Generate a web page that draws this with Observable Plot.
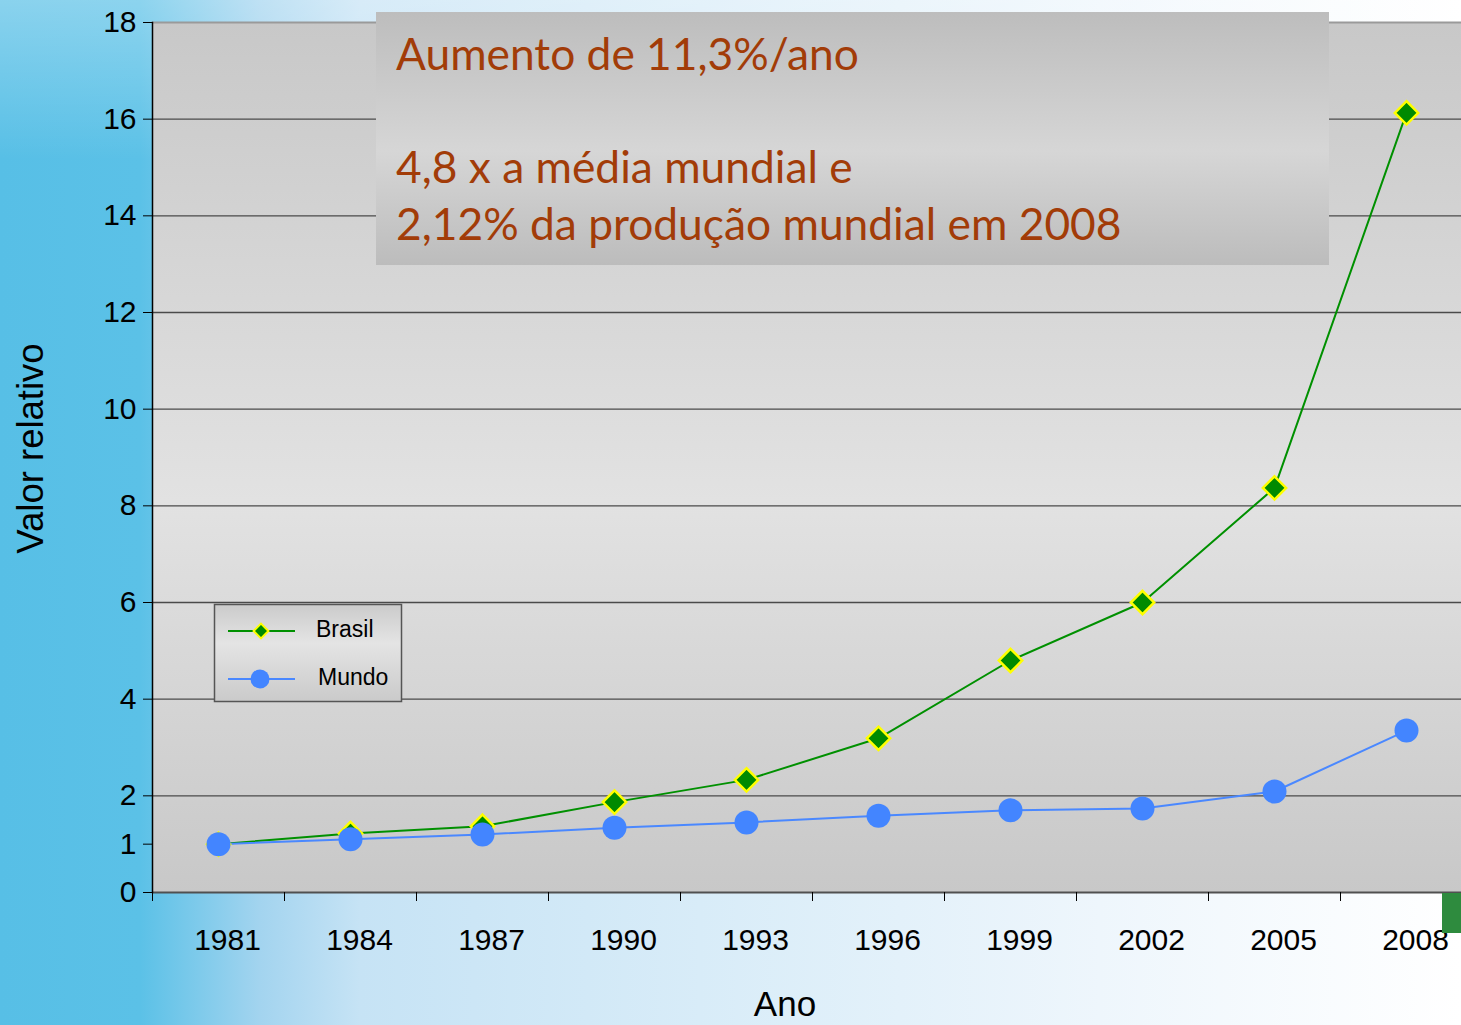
<!DOCTYPE html>
<html><head><meta charset="utf-8">
<script src="https://cdn.jsdelivr.net/npm/d3@7"></script>
<script src="https://cdn.jsdelivr.net/npm/@observablehq/plot@0.6"></script>
<style>
html,body{margin:0;padding:0;}
body{width:1461px;height:1025px;overflow:hidden;position:relative;font-family:"Liberation Sans",Arial,sans-serif;
background:
 linear-gradient(180deg, rgba(255,255,255,0.30) 0px, rgba(255,255,255,0) 160px),
 linear-gradient(90deg, #57bfe6 0px, #5bc1e7 140px, #a3d4ef 260px, #c6e3f5 360px, #d8ecf8 700px, #eef6fc 1100px, #ffffff 1461px);}
#chart{position:absolute;left:0;top:0;}
.overlay{position:absolute;left:0;top:0;pointer-events:none;}
</style>
</head><body>
<div id="chart"></div>
<svg class="overlay" width="1461" height="1025" id="ov"></svg>
<script>
const years = ["1981","1984","1987","1990","1993","1996","1999","2002","2005","2008"];
const brasil = [1.0, 1.22, 1.37, 1.87, 2.33, 3.19, 4.8, 6.0, 8.37, 16.13];
const mundo  = [1.0, 1.1, 1.2, 1.34, 1.45, 1.59, 1.7, 1.74, 2.09, 3.35];
const yTicks = [0,1,2,4,6,8,10,12,14,16,18];
const gridTicks = [2,4,6,8,10,12,14,16];
const seriesNames = ["Brasil","Mundo"];
const noteLines = ["Aumento de 11,3%/ano", "", "4,8 x a média mundial e", "2,12% da produção mundial em 2008"];

const dataB = years.map((a,i)=>({ano:a, valor:brasil[i]}));
const dataM = years.map((a,i)=>({ano:a, valor:mundo[i]}));

const W = 1461, H = 1025;
const mL = 152, mT = 22, mB = 133;
const bandW = 132.0;

function defs() {
  const ns = "http://www.w3.org/2000/svg";
  const g = document.createElementNS(ns, "defs");
  g.innerHTML = `<linearGradient id="plotbg" x1="0" y1="0" x2="0" y2="1">
    <stop offset="0" stop-color="#c8c8c8"/>
    <stop offset="0.55" stop-color="#e2e2e2"/>
    <stop offset="1" stop-color="#c8c8c8"/></linearGradient>`;
  return g;
}

const chart = Plot.plot({
  width: W, height: H,
  marginLeft: mL, marginTop: mT, marginBottom: mB, marginRight: 0,
  style: {background: "transparent", fontFamily: "'Liberation Sans', Arial, sans-serif", overflow: "hidden"},
  x: {type: "band", domain: years, range: [mL, mL + bandW * years.length], padding: 0, axis: null},
  y: {domain: [0, 18], axis: null},
  marks: [
    defs,
    Plot.frame({fill: "url(#plotbg)", stroke: null}),
    Plot.gridY(gridTicks, {stroke: "#4a4a4a", strokeOpacity: 1, strokeWidth: 1.3}),
    Plot.ruleY([18], {stroke: "#9a9a9a", strokeWidth: 2}),
    Plot.ruleY([0], {stroke: "#505050", strokeWidth: 2}),
    Plot.frame({anchor: "left", stroke: "#000", strokeWidth: 1.5}),
    Plot.axisY(yTicks, {tickSize: 9, tickPadding: 7, fontSize: 30, fill: "#000", stroke: "#000", label: null, tickFormat: d => String(d)}),
    Plot.axisX({tickSize: 9, dx: -bandW/2, tickFormat: () => "", label: null, stroke: "#000"}),
    Plot.axisX({tickSize: 0, tickPadding: 36, dx: 9, fontSize: 30, fill: "#000", label: null}),
    Plot.line(dataB, {x: "ano", y: "valor", stroke: "#009000", strokeWidth: 2}),
    Plot.line(dataM, {x: "ano", y: "valor", stroke: "#4a88ff", strokeWidth: 2}),
    Plot.dot(dataB, {x: "ano", y: "valor", symbol: "diamond2", r: 10.5, fill: "#008a00", stroke: "#ffff00", strokeWidth: 2.5}),
    Plot.dot(dataM, {x: "ano", y: "valor", r: 12, fill: "#4385ff", stroke: null}),
    Plot.text(["Ano"], {frameAnchor: "bottom", lineAnchor: "middle", textAnchor: "middle", dx: -22, dy: 112, fontSize: 35, fill: "#000"}),
    Plot.text(["Valor relativo"], {frameAnchor: "left", textAnchor: "middle", lineAnchor: "middle", rotate: -90, dx: -121, dy: -9, fontSize: 36.5, fill: "#000"})
  ]
});
document.getElementById("chart").appendChild(chart);

// Annotation box and legend (overlay)
const ov = document.getElementById("ov");
const sym = d3.symbol().type(d3.symbolDiamond2).size(140);
ov.innerHTML = `
<defs>
 <linearGradient id="notebg" x1="0" y1="0" x2="0" y2="1">
  <stop offset="0" stop-color="#bdbdbd"/><stop offset="0.55" stop-color="#d6d6d6"/><stop offset="1" stop-color="#bcbcbc"/>
 </linearGradient>
 <linearGradient id="legbg" x1="0" y1="0" x2="0" y2="1">
  <stop offset="0" stop-color="#cbcbcb"/><stop offset="0.4" stop-color="#e4e4e4"/><stop offset="1" stop-color="#cacaca"/>
 </linearGradient>
</defs>
<rect x="376" y="12" width="953" height="253" fill="url(#notebg)"/>
${noteLines.map((t,i)=>`<text x="396" y="${70 + i*56.7}" font-family="Lato, 'Open Sans', sans-serif" font-size="44.3" fill="#a23c08">${t}</text>`).join("")}
<rect x="214.5" y="604.5" width="187" height="97" fill="url(#legbg)" stroke="#555" stroke-width="1.5"/>
<line x1="228" x2="295" y1="631" y2="631" stroke="#009000" stroke-width="2"/>
<path transform="translate(261,631)" d="${sym()}" fill="#008a00" stroke="#ffff00" stroke-width="2"/>
<text x="316" y="637" font-size="23" fill="#000">${seriesNames[0]}</text>
<line x1="228" x2="295" y1="679" y2="679" stroke="#4a88ff" stroke-width="2"/>
<circle cx="260" cy="679" r="9.5" fill="#4385ff"/>
<text x="318" y="685" font-size="23" fill="#000">${seriesNames[1]}</text>
<rect x="1442" y="893" width="19" height="40" fill="#2e8b3e"/>
`;
</script>
</body></html>
